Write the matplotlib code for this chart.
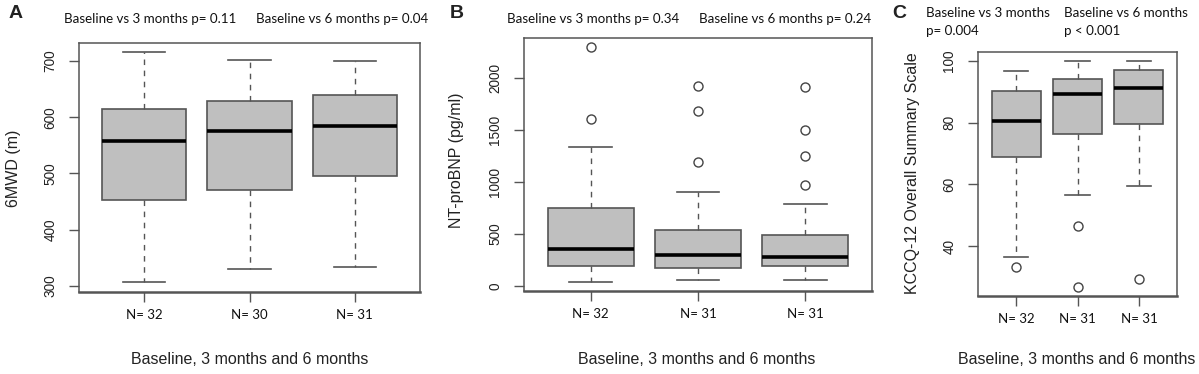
import numpy as np
import matplotlib
matplotlib.use("Agg")
import matplotlib.pyplot as plt

# ---------------------------------------------------------------
# data (per group: baseline, 3 months, 6 months)
n_labels_a = ["N= 32", "N= 30", "N= 31"]
a_whislo = [306, 330, 334]
a_q1     = [453, 471, 495]
a_med    = [558, 576, 585]
a_q3     = [614, 628, 640]
a_whishi = [716, 702, 700]
a_fliers = [[], [], []]

n_labels_b = ["N= 32", "N= 31", "N= 31"]
b_whislo = [42, 61, 55]
b_q1     = [193, 174, 193]
b_med    = [357, 296, 283]
b_q3     = [750, 541, 495]
b_whishi = [1341, 910, 794]
b_fliers = [[2306, 1608], [1926, 1682, 1199], [1917, 1502, 1251, 972]]

n_labels_c = ["N= 32", "N= 31", "N= 31"]
c_whislo = [36.4, 56.5, 59.4]
c_q1     = [68.8, 76.3, 79.7]
c_med    = [80.6, 89.4, 91.4]
c_q3     = [90.5, 94.3, 97.3]
c_whishi = [96.8, 100, 100]
c_fliers = [[33.3], [46.6, 26.6], [29.2]]

xlab = "Baseline, 3 months and 6 months"

# ---------------------------------------------------------------
W, H = 1199, 374
fig = plt.figure(figsize=(W/100, H/100), dpi=100)
fig.patch.set_facecolor("white")

def rect(l, r, t, b):
    return [l/W, 1 - b/H, (r - l)/W, (b - t)/H]

def px(x, y):
    return x/W, 1 - y/H

edge = "#555555"
tfont = ["Lato", "DejaVu Sans"]
afont = ["Liberation Sans", "DejaVu Sans"]

def make_stats(wl, q1, md, q3, wh, fl):
    return [dict(whislo=wl[i], q1=q1[i], med=md[i], q3=q3[i], whishi=wh[i],
                 fliers=fl[i]) for i in range(len(md))]

def draw_panel(box, stats, nlabels, ylim, yticks):
    ax = fig.add_axes(box)
    ax.bxp(stats, positions=[1, 2, 3], widths=0.8, capwidths=0.4,
           patch_artist=True, showfliers=True,
           boxprops=dict(facecolor="#bfbfbf", edgecolor=edge, linewidth=1.2),
           medianprops=dict(color="black", linewidth=2.6),
           whiskerprops=dict(color=edge, linewidth=1.0, linestyle=(0, (4, 4))),
           capprops=dict(color=edge, linewidth=1.2),
           flierprops=dict(marker="o", markerfacecolor="none",
                           markeredgecolor="#444444", markersize=6.5,
                           markeredgewidth=1.0))
    ax.set_xlim(0.38, 3.62)
    ax.set_ylim(*ylim)
    ax.set_yticks(yticks)
    ax.set_yticklabels([str(v) for v in yticks], rotation=90, va="center",
                       fontsize=9.8, family=afont, color="#222222")
    ax.set_xticks([1, 2, 3])
    ax.set_xticklabels(nlabels, fontsize=9.5, family=tfont, color="#111111")
    ax.tick_params(axis="y", length=7.5, width=1.0, color=edge, pad=8)
    ax.tick_params(axis="x", length=7, width=1.0, color=edge, pad=5)
    for s in ax.spines.values():
        s.set_color(edge)
        s.set_linewidth(1.1)
    ax.spines["bottom"].set_linewidth(1.8)
    return ax

# panel A
axA = draw_panel(rect(79, 420, 43, 292),
                 make_stats(a_whislo, a_q1, a_med, a_q3, a_whishi, a_fliers),
                 n_labels_a, (289, 732), [300, 400, 500, 600, 700])
# panel B
axB = draw_panel(rect(524, 872, 37.5, 291),
                 make_stats(b_whislo, b_q1, b_med, b_q3, b_whishi, b_fliers),
                 n_labels_b, (-48, 2395), [0, 500, 1000, 1500, 2000])
# panel C
axC = draw_panel(rect(978, 1177, 52.3, 296),
                 make_stats(c_whislo, c_q1, c_med, c_q3, c_whishi, c_fliers),
                 n_labels_c, (23.8, 102.9), [40, 60, 80, 100])

# y labels
fig.text(*px(14, 168), "6MWD (m)", rotation=90, ha="center", va="center",
         fontsize=11.5, family=afont, color="#222222")
fig.text(*px(457, 160), "NT-proBNP (pg/ml)", rotation=90, ha="center",
         va="center", fontsize=11.5, family=afont, color="#222222")
fig.text(*px(913, 173), "KCCQ-12 Overall Summary Scale", rotation=90,
         ha="center", va="center", fontsize=11.5, family=afont, color="#222222")

# x labels
for xc in [250, 697, 1077]:
    fig.text(*px(xc, 359), xlab, ha="center", va="center", fontsize=11.5,
             family=afont, color="#222222")

# panel letters
for (x, y, s) in [(9, 13, "A"), (450, 13, "B"), (892, 13, "C")]:
    fig.text(*px(x, y), s, ha="left", va="center", fontsize=14,
             fontweight="bold", family=afont, color="#222222")

# p-value annotations
pkw = dict(ha="left", va="center", fontsize=9.6, family=tfont, color="#111111")
fig.text(*px(64, 19), "Baseline vs 3 months p= 0.11", **pkw)
fig.text(*px(256, 19), "Baseline vs 6 months p= 0.04", **pkw)
fig.text(*px(507, 19), "Baseline vs 3 months p= 0.34", **pkw)
fig.text(*px(699, 19), "Baseline vs 6 months p= 0.24", **pkw)
fig.text(*px(926, 13), "Baseline vs 3 months", **pkw)
fig.text(*px(926, 31), "p= 0.004", **pkw)
fig.text(*px(1064, 13), "Baseline vs 6 months", **pkw)
fig.text(*px(1064, 31), "p < 0.001", **pkw)

plt.savefig("out.png", dpi=100)
